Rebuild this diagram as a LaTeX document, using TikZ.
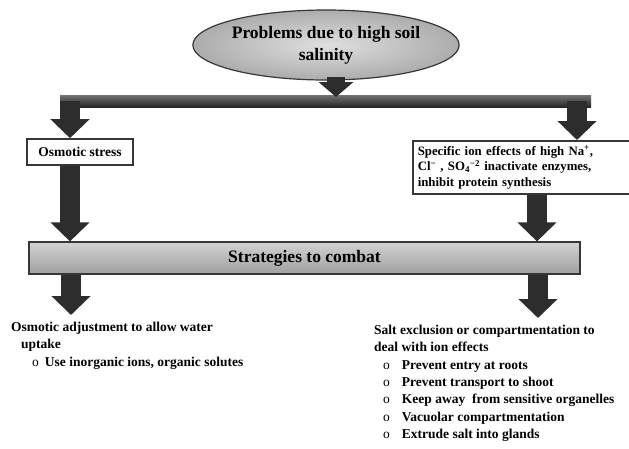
\documentclass[tikz,border=0pt]{standalone}
\usepackage{fontspec}
\setmainfont{Liberation Serif}
\usetikzlibrary{arrows.meta,shapes.geometric,calc}
\definecolor{arr}{RGB}{45,45,45}
\definecolor{edge}{RGB}{55,55,55}
\begin{document}
\begin{tikzpicture}[x=1pt,y=-1pt,
  blockarrow/.style={draw=arr, line width=20pt, -{Triangle[width=38pt,length=19pt]}},
  shortarrow/.style={draw=arr, line width=18pt, -{Triangle[width=34pt,length=15pt]}},
  whitebox/.style={draw=edge, line width=1.6pt, fill=white, inner sep=4pt},
  lowtext/.style={inner sep=0pt, align=left, font=\bfseries\fontsize{13.5}{17.3}\selectfont}
]
\useasboundingbox[fill=white] (0,0) rectangle (629,448);

% top ellipse
\node[ellipse, draw=edge, line width=1.2pt, inner color=gray!25, outer color=gray!65,
      minimum width=256pt, minimum height=70pt, inner sep=0pt, align=center,
      font=\bfseries\fontsize{17.5}{22}\selectfont] (prob) at (326,45)
      {Problems due to high soil\\salinity};

% top distribution bar
\coordinate (tbA) at (60,95);
\coordinate (tbB) at (591,107);
\fill[top color=black!55, bottom color=black!85] (tbA) rectangle (tbB);
\coordinate (jL) at (70,101);
\coordinate (jR) at (577,101);
\coordinate (jM) at (336,97);
\draw[shortarrow] ($(prob.south)+(10,-4)$) -- (jM);

% first level boxes
\node[whitebox, font=\bfseries\fontsize{13.5}{16}\selectfont, minimum width=106pt, minimum height=26pt, inner sep=1pt] (osm) at (80,152) {Osmotic stress};
\node[whitebox, font=\bfseries\fontsize{12.8}{15.5}\selectfont, anchor=north west, text width=212pt, align=left, inner sep=5pt] (ion) at (412,140)
  {Specific ion effects of high Na\textsuperscript{+},\\
   Cl\textsuperscript{−} , SO\textsubscript{4}\textsuperscript{−2} inactivate enzymes,\\
   inhibit protein synthesis};

\draw[blockarrow] (jL) -- (jL |- osm.north);
\draw[blockarrow] (jR) -- (jR |- ion.north);

% strategies bar
\node[draw=edge, line width=1.2pt, top color=gray!35, bottom color=gray!75,
      minimum width=551pt, minimum height=32pt, inner sep=0pt,
      font=\bfseries\fontsize{17.5}{20}\selectfont] (strat) at (304.5,258) {Strategies to combat};

\coordinate (xr) at (537,0);
\draw[blockarrow] (jL |- osm.south) -- (jL |- strat.north);
\draw[blockarrow] (xr |- ion.south) -- (xr |- strat.north);

% lower texts
\node[lowtext, anchor=north west] (adj) at (11,322)
  {Osmotic adjustment to allow water\\
   \hspace*{10pt}uptake\\
   \hspace*{21pt}{\mdseries o}\hspace{6pt}Use inorganic ions, organic solutes};
\node[lowtext, anchor=north west] (salt) at (374,325)
  {Salt exclusion or compartmentation to\\
   deal with ion effects\\
   \hspace*{9pt}{\mdseries o}\hspace{12pt}Prevent entry at roots\\
   \hspace*{9pt}{\mdseries o}\hspace{12pt}Prevent transport to shoot\\
   \hspace*{9pt}{\mdseries o}\hspace{12pt}Keep away\ \ from sensitive organelles\\
   \hspace*{9pt}{\mdseries o}\hspace{12pt}Vacuolar compartmentation\\
   \hspace*{9pt}{\mdseries o}\hspace{12pt}Extrude salt into glands};

\coordinate (tipL) at (71,315);
\coordinate (tipR) at (538,318);
\draw[blockarrow] (tipL |- strat.south) -- (tipL);
\draw[blockarrow] (tipR |- strat.south) -- (tipR);
\end{tikzpicture}
\end{document}
